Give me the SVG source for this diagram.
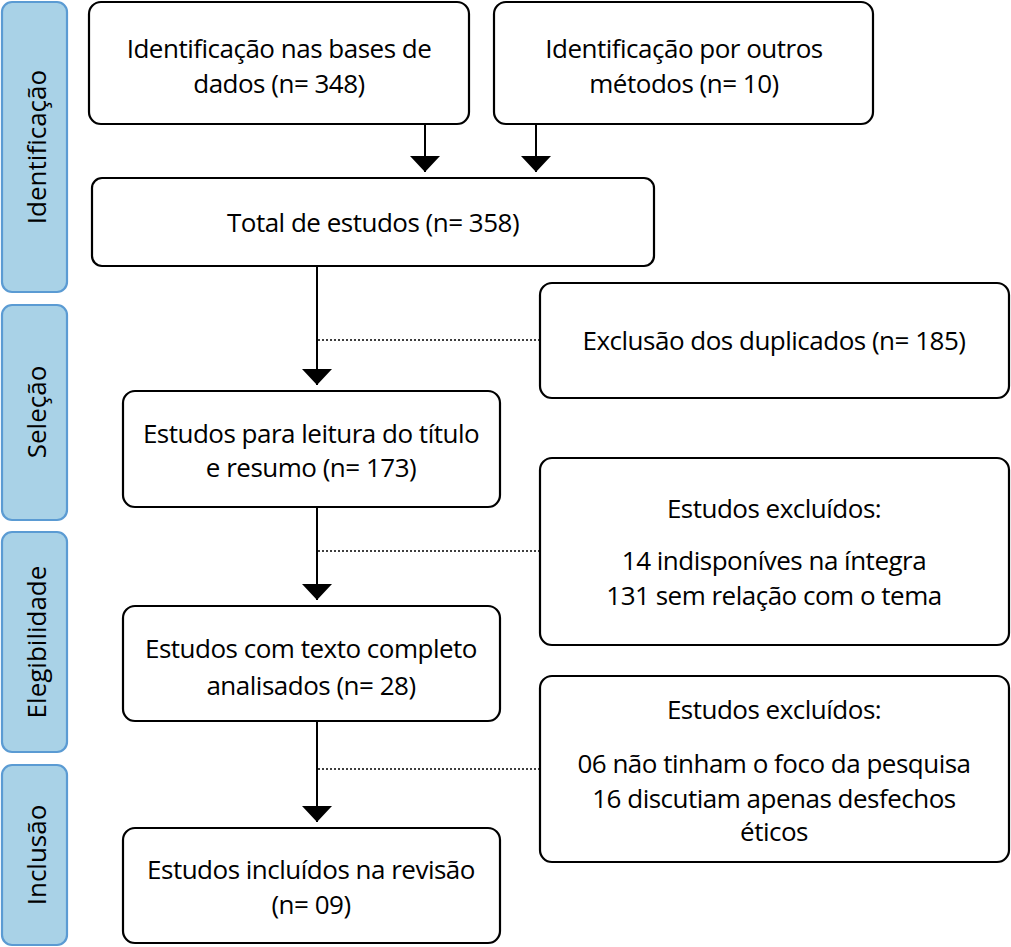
<svg xmlns="http://www.w3.org/2000/svg" width="1011" height="947" viewBox="0 0 1011 947">
<style>
.box{fill:#fff;stroke:#000;stroke-width:2.2}
.ph{fill:#a9d2e7;stroke:#5b9bd3;stroke-width:2.2}
text{font-family:"Open Sans","Noto Sans",sans-serif;font-size:26px;letter-spacing:-0.5px;fill:#000;text-anchor:middle}
.pt{font-size:26px;letter-spacing:0}
.arr{stroke:#000;stroke-width:2;fill:none}
.dot{stroke:#000;stroke-width:1.6;stroke-dasharray:2 2;fill:none}
</style>
<defs>
<marker id="ah" markerWidth="16" markerHeight="30" refX="16" refY="15" orient="auto" markerUnits="userSpaceOnUse">
<path d="M0,0 L16,15 L0,30 Z" fill="#000"/>
</marker>
</defs>
<rect width="1011" height="947" fill="#fff"/>
<g id="phase-identificacao"><rect class="ph" x="2" y="2" width="65" height="290" rx="10"/><text class="pt" transform="translate(46,147) rotate(-90)">Identificação</text></g>
<g id="phase-selecao"><rect class="ph" x="2" y="305" width="65" height="215" rx="10"/><text class="pt" transform="translate(46,412) rotate(-90)">Seleção</text></g>
<g id="phase-elegibilidade"><rect class="ph" x="2" y="532" width="65" height="220" rx="10"/><text class="pt" transform="translate(46,642) rotate(-90)">Elegibilidade</text></g>
<g id="phase-inclusao"><rect class="ph" x="2" y="765" width="65" height="180" rx="10"/><text class="pt" transform="translate(46,855) rotate(-90)">Inclusão</text></g>

<g id="n-bases"><rect class="box" x="89" y="2" width="380" height="122" rx="12"/><text x="279" y="58">Identificação nas bases de</text><text x="279" y="93">dados (n= 348)</text></g>
<g id="n-outros"><rect class="box" x="494" y="2" width="379" height="122" rx="12"/><text x="684" y="58">Identificação por outros</text><text x="684" y="93">métodos (n= 10)</text></g>
<g id="n-total"><rect class="box" x="92" y="178" width="562" height="88" rx="10"/><text x="373" y="232">Total de estudos (n= 358)</text></g>
<g id="n-duplicados"><rect class="box" x="540" y="283" width="469" height="115" rx="12"/><text x="774" y="350">Exclusão dos duplicados (n= 185)</text></g>
<g id="n-titulo"><rect class="box" x="123" y="391" width="377" height="116" rx="12"/><text x="311" y="443">Estudos para leitura do título</text><text x="311" y="477">e resumo (n= 173)</text></g>
<g id="n-excl1"><rect class="box" x="540" y="458" width="469" height="187" rx="12"/><text x="774" y="518">Estudos excluídos:</text><text x="774" y="570">14 indisponíves na íntegra</text><text x="774" y="605">131 sem relação com o tema</text></g>
<g id="n-completo"><rect class="box" x="123" y="606" width="377" height="115" rx="12"/><text x="311" y="658">Estudos com texto completo</text><text x="311" y="695">analisados (n= 28)</text></g>
<g id="n-excl2"><rect class="box" x="540" y="676" width="469" height="186" rx="12"/><text x="774" y="719">Estudos excluídos:</text><text x="774" y="773">06 não tinham o foco da pesquisa</text><text x="774" y="808">16 discutiam apenas desfechos</text><text x="774" y="841">éticos</text></g>
<g id="n-incluidos"><rect class="box" x="123" y="828" width="377" height="115" rx="12"/><text x="311" y="879">Estudos incluídos na revisão</text><text x="311" y="914">(n= 09)</text></g>

<g id="connectors">
<line class="arr" x1="425" y1="124" x2="425" y2="172" marker-end="url(#ah)"/>
<line class="arr" x1="536" y1="124" x2="536" y2="172" marker-end="url(#ah)"/>
<line class="arr" x1="317" y1="266" x2="317" y2="385" marker-end="url(#ah)"/>
<line class="arr" x1="317" y1="507" x2="317" y2="600" marker-end="url(#ah)"/>
<line class="arr" x1="317" y1="721" x2="317" y2="822" marker-end="url(#ah)"/>
<line class="dot" x1="318" y1="340" x2="540" y2="340"/>
<line class="dot" x1="318" y1="551" x2="540" y2="551"/>
<line class="dot" x1="318" y1="769" x2="540" y2="769"/>
</g>
</svg>
